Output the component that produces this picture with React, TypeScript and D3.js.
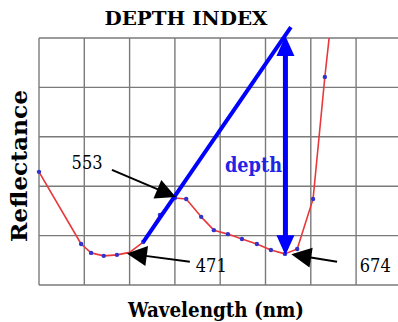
import * as d3 from "d3";

// spectrum, in grid units (x: columns, y: rows)
const waveX = [0, 0.93, 1.15, 1.43, 1.72, 2.0, 2.3, 2.67, 3.0, 3.25, 3.58, 3.86, 4.17, 4.48, 4.81, 5.12, 5.43, 5.7, 6.05, 6.31, 6.5];
const reflY = [2.29, 0.83, 0.65, 0.59, 0.61, 0.66, 0.87, 1.42, 1.76, 1.74, 1.38, 1.11, 1.03, 0.93, 0.83, 0.71, 0.63, 0.73, 1.74, 4.21, 5.8];
const hasDot = [1, 1, 1, 1, 1, 0, 1, 1, 1, 1, 1, 1, 1, 1, 1, 1, 1, 1, 1, 1, 0];

// continuum line and depth arrow
const hullLine: [number, number][] = [[2.3, 0.87], [5.56, 5.22]];
const depthArrow: [number, number][] = [[5.44, 5.04], [5.44, 0.6]];

// labelled wavelengths: text, label pos, arrow from, arrow tip
const markLabels = ["553", "471", "674"];
const markLabelPos: [number, number][] = [[0.72, 2.35], [3.46, 0.26], [7.08, 0.26]];
const markFrom: [number, number][] = [[1.61, 2.33], [3.33, 0.47], [6.58, 0.47]];
const markTip: [number, number][] = [[3.02, 1.78], [1.94, 0.64], [5.57, 0.62]];

const xTicks = d3.range(0, 9);
const yTicks = d3.range(0, 6);

const W = 398;
const H = 322;
const font = "'DejaVu Serif', serif";

function head(tip: [number, number], from: [number, number], len: number, half: number) {
  const dx = tip[0] - from[0];
  const dy = tip[1] - from[1];
  const d = Math.hypot(dx, dy);
  const ux = dx / d;
  const uy = dy / d;
  const bx = tip[0] - ux * len;
  const by = tip[1] - uy * len;
  return `M${tip[0]},${tip[1]}L${bx - uy * half},${by + ux * half}L${bx + uy * half},${by - ux * half}Z`;
}

export default function App() {
  const x = d3.scaleLinear().domain([0, 8]).range([39, 401.4]);
  const y = d3.scaleLinear().domain([0, 5]).range([285, 38]);

  const pts = waveX.map((v, i) => [x(v), y(reflY[i])] as [number, number]);
  const line = d3.line()(pts) || "";
  const dots = pts.filter((_, i) => hasDot[i] === 1);

  const h0: [number, number] = [x(hullLine[0][0]), y(hullLine[0][1])];
  const h1: [number, number] = [x(hullLine[1][0]), y(hullLine[1][1])];
  const aTop: [number, number] = [x(depthArrow[0][0]), y(depthArrow[0][1])];
  const aBot: [number, number] = [x(depthArrow[1][0]), y(depthArrow[1][1])];

  return (
    <div style={{ position: "absolute", left: 0, top: 0 }}>
      <svg width={W} height={H} style={{ display: "block", background: "#fff", fontFamily: font }}>
        <defs>
          <clipPath id="plot">
            <rect x={x(0)} y={y(5)} width={x(8) - x(0)} height={y(0) - y(5)} />
          </clipPath>
        </defs>
        <g stroke="#7a7a7a" strokeWidth={1.4}>
          {xTicks.map((t) => (
            <line key={"v" + t} x1={x(t)} x2={x(t)} y1={y(0)} y2={y(5)} />
          ))}
          {yTicks.map((t) => (
            <line key={"h" + t} x1={x(0)} x2={x(8)} y1={y(t)} y2={y(t)} />
          ))}
        </g>

        <path d={line} fill="none" stroke="#e8383a" strokeWidth={1.6} strokeLinejoin="round" clipPath="url(#plot)" />
        {dots.map((p, i) => (
          <circle key={i} cx={p[0]} cy={p[1]} r={2.2} fill="#3333cc" />
        ))}

        <line x1={h0[0]} y1={h0[1]} x2={h1[0]} y2={h1[1]} stroke="#0000ff" strokeWidth={4} />
        <line x1={aTop[0]} y1={aTop[1] + 15} x2={aBot[0]} y2={aBot[1] - 15} stroke="#0000ff" strokeWidth={5} />
        <path d={head(aTop, aBot, 20, 9)} fill="#0000ff" />
        <path d={head(aBot, aTop, 20, 9)} fill="#0000ff" />
        <text x={225} y={172} fontWeight="bold" fontSize={20} fill="#2323e6" textLength={57} lengthAdjust="spacingAndGlyphs">
          depth
        </text>

        {markLabels.map((lab, i) => {
          const f: [number, number] = [x(markFrom[i][0]), y(markFrom[i][1])];
          const t: [number, number] = [x(markTip[i][0]), y(markTip[i][1])];
          const dd = Math.hypot(t[0] - f[0], t[1] - f[1]);
          const e: [number, number] = [t[0] - ((t[0] - f[0]) / dd) * 15, t[1] - ((t[1] - f[1]) / dd) * 15];
          return (
            <g key={lab}>
              <line x1={f[0]} y1={f[1]} x2={e[0]} y2={e[1]} stroke="#000" strokeWidth={2} />
              <path d={head(t, f, 20, 10)} fill="#000" />
              <text x={x(markLabelPos[i][0])} y={y(markLabelPos[i][1])} fontSize={19} fill="#000" textLength={31} lengthAdjust="spacingAndGlyphs">
                {lab}
              </text>
            </g>
          );
        })}

        <text x={186} y={25} textAnchor="middle" fontWeight="bold" fontSize={19} textLength={163} lengthAdjust="spacingAndGlyphs">
          DEPTH INDEX
        </text>
        <text x={216} y={317} textAnchor="middle" fontWeight="bold" fontSize={21} textLength={176} lengthAdjust="spacingAndGlyphs">
          Wavelength (nm)
        </text>
        <text transform="translate(27,166) rotate(-90)" textAnchor="middle" fontWeight="bold" fontSize={23} textLength={152} lengthAdjust="spacingAndGlyphs">
          Reflectance
        </text>
      </svg>
    </div>
  );
}
